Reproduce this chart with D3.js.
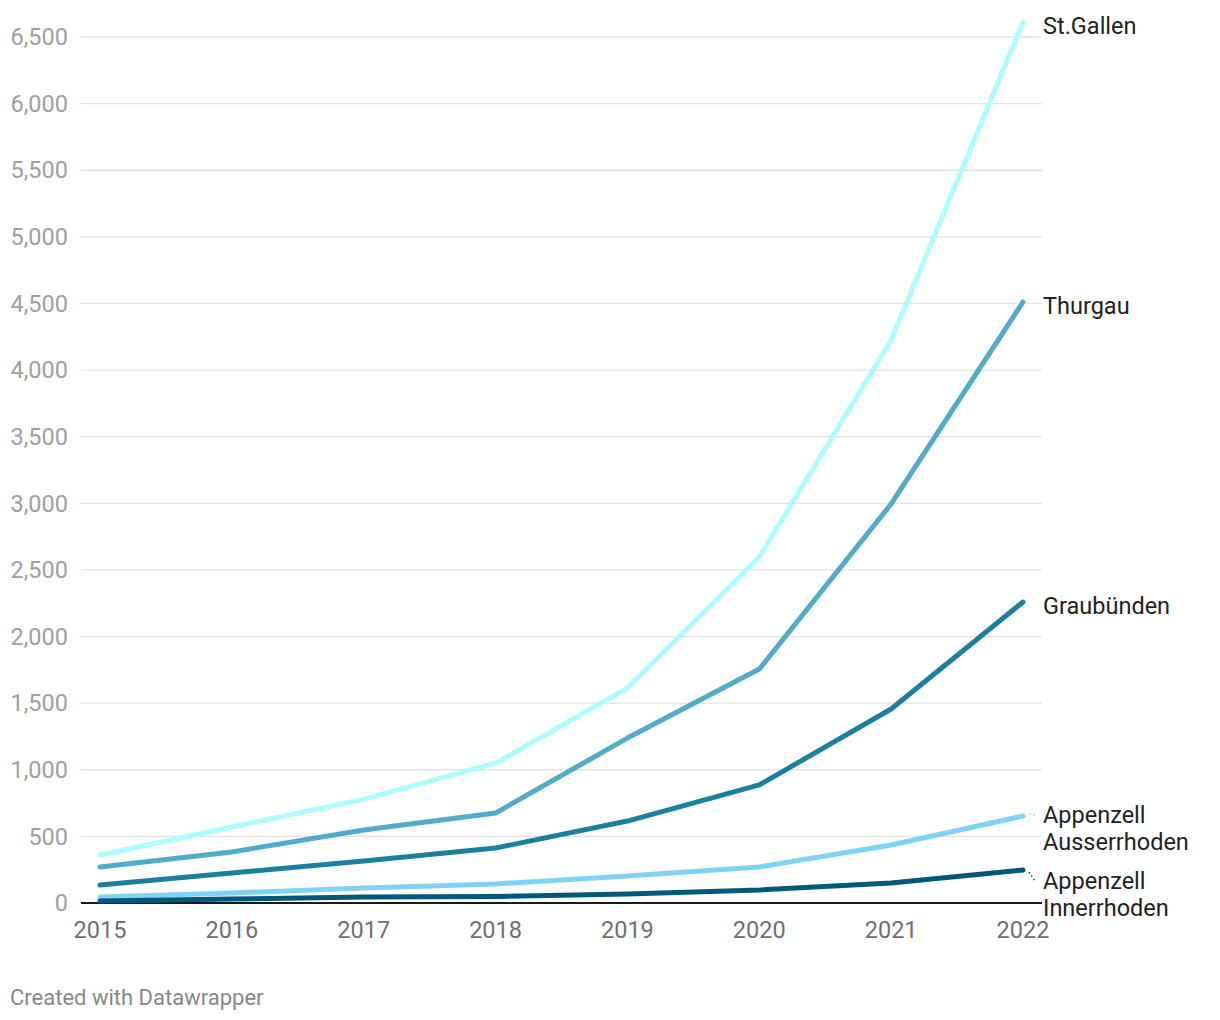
<!DOCTYPE html>
<html>
<head>
<meta charset="utf-8">
<script src="https://cdn.jsdelivr.net/npm/d3@7"></script>
<style>
  body { margin: 0; background: #fff; }
  svg { display: block; font-family: Roboto, sans-serif; }
</style>
</head>
<body>
<svg id="chart" width="1220" height="1020"></svg>
<script>
const years = [2015, 2016, 2017, 2018, 2019, 2020, 2021, 2022];
const stGallen   = [360, 570, 780, 1050, 1614, 2597, 4226, 6612];
const thurgau    = [270, 383, 548, 675, 1238, 1756, 2995, 4511];
const graubunden = [135, 225, 315, 413, 615, 886, 1456, 2259];
const appAR      = [45, 75, 113, 143, 203, 270, 435, 653];
const appIR      = [15, 30, 45, 48, 68, 98, 150, 248];
const yTicks = [0, 500, 1000, 1500, 2000, 2500, 3000, 3500, 4000, 4500, 5000, 5500, 6000, 6500];

const series = [
  { name: ["St.Gallen"], values: stGallen, color: "#abfdff", labelY: 26 },
  { name: ["Thurgau"], values: thurgau, color: "#51abcc", labelY: 306 },
  { name: ["Graubünden"], values: graubunden, color: "#1b80a0", labelY: 606 },
  { name: ["Appenzell", "Ausserrhoden"], values: appAR, color: "#80d3f7", labelY: 815 },
  { name: ["Appenzell", "Innerrhoden"], values: appIR, color: "#005979", labelY: 881 }
];

const svg = d3.select("#chart");
const x = d3.scaleLinear().domain([2015, 2022]).range([100, 1023]);
const y = d3.scaleLinear().domain([0, 6500]).range([903, 37]);
const gridLeft = 81, gridRight = 1042;

// grid
svg.append("g").selectAll("line").data(yTicks.filter(d => d > 0)).join("line")
  .attr("x1", gridLeft).attr("x2", gridRight)
  .attr("y1", d => y(d)).attr("y2", d => y(d))
  .attr("stroke", "#e3e3e3").attr("stroke-width", 1.3);

// y labels
svg.append("g").selectAll("text").data(yTicks).join("text")
  .attr("x", 68).attr("y", d => y(d)).attr("dy", "0.35em")
  .attr("text-anchor", "end").attr("fill", "#a0a0a0")
  .style("font-size", "23.5px")
  .text(d => d3.format(",")(d));

// x labels
svg.append("g").selectAll("text").data(years).join("text")
  .attr("x", d => x(d)).attr("y", 930).attr("dy", "0.35em")
  .attr("text-anchor", "middle").attr("fill", "#707070")
  .style("font-size", "23.5px")
  .text(d => d);

// baseline
svg.append("line").attr("x1", gridLeft).attr("x2", gridRight)
  .attr("y1", y(0)).attr("y2", y(0)).attr("stroke", "#1a1a1a").attr("stroke-width", 2);

const line = d3.line().x((d, i) => x(years[i])).y(d => y(d));

svg.append("g").selectAll("path").data(series).join("path")
  .attr("d", d => line(d.values))
  .attr("fill", "none").attr("stroke", d => d.color)
  .attr("stroke-width", 5).attr("stroke-linecap", "round").attr("stroke-linejoin", "round");

// labels
series.forEach(s => {
  const t = svg.append("text").attr("x", 1043).attr("y", s.labelY)
    .attr("fill", "#222").style("font-size", "23.5px");
  s.name.forEach((n, i) => {
    t.append("tspan").attr("x", 1043).attr("dy", i === 0 ? "0.35em" : "27px").text(n);
  });
  if (s.name.length > 1) {
    const lastV = s.values[s.values.length - 1];
    const up = s.labelY < y(lastV);
    svg.append("line")
      .attr("x1", x(2022) + 6).attr("y1", y(lastV) + (up ? -2 : 2))
      .attr("x2", 1035).attr("y2", s.labelY + (up ? 0 : 0))
      .attr("stroke", s.color).attr("stroke-width", 1.2).attr("stroke-dasharray", "2,2");
  }
});

svg.append("text").attr("x", 10).attr("y", 997).attr("dy", "0.35em")
  .attr("fill", "#888").style("font-size", "22px")
  .text("Created with Datawrapper");
</script>
</body>
</html>
